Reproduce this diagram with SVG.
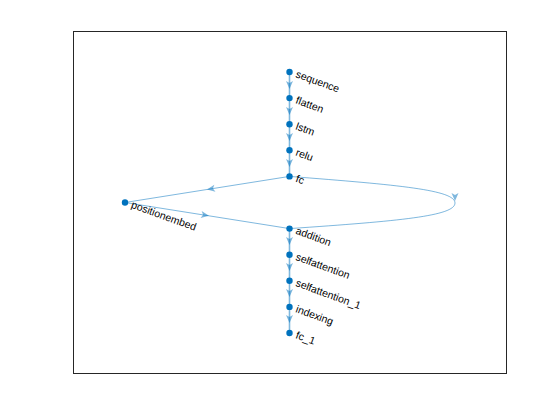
<svg xmlns="http://www.w3.org/2000/svg" width="560" height="420" viewBox="0 0 560 420">
<defs>
<style>
.edge{fill:none;stroke:#0072BD;stroke-opacity:0.5;stroke-width:1}
.v{stroke-width:1.6}
.arr{fill:#0072BD;fill-opacity:0.5;stroke:none}
.node{fill:#0072BD}
.lbl{font-family:"Liberation Sans",Arial,sans-serif;font-size:10.5px;fill:#000}
</style>
<path id="ah" d="M0,0 L-8,-3.5 L-6,0 L-8,3.5 Z"/>
</defs>
<rect x="73.5" y="31.5" width="433" height="342" fill="#fff" stroke="#262626" stroke-width="1"/>
<g id="edges">
<path class="edge v" d="M289.5,72 L289.5,176.4"/>
<path class="edge v" d="M289.5,228.6 L289.5,333"/>
<path class="edge" d="M289.5,176.4 L125,202.5 L289.5,228.6"/>
<path class="edge" d="M289.5,176.4 C400,185 455,190 455,203 C455,216 400,221 289.5,228.6"/>
<use href="#ah" class="arr" transform="translate(289.5,89) rotate(90)"/>
<use href="#ah" class="arr" transform="translate(289.5,115) rotate(90)"/>
<use href="#ah" class="arr" transform="translate(289.5,141) rotate(90)"/>
<use href="#ah" class="arr" transform="translate(289.5,167) rotate(90)"/>
<use href="#ah" class="arr" transform="translate(289.5,245) rotate(90)"/>
<use href="#ah" class="arr" transform="translate(289.5,271) rotate(90)"/>
<use href="#ah" class="arr" transform="translate(289.5,297) rotate(90)"/>
<use href="#ah" class="arr" transform="translate(289.5,323) rotate(90)"/>
<use href="#ah" class="arr" transform="translate(207,189.5) rotate(171)"/>
<use href="#ah" class="arr" transform="translate(209,215.8) rotate(9)"/>
<use href="#ah" class="arr" transform="translate(455,201) rotate(90)"/>
</g>
<g id="n_sequence"><circle class="node" cx="289.5" cy="72" r="3.2"/><text class="lbl" transform="translate(295,77) rotate(20)">sequence</text></g>
<g id="n_flatten"><circle class="node" cx="289.5" cy="98.1" r="3.2"/><text class="lbl" transform="translate(295,103.1) rotate(20)">flatten</text></g>
<g id="n_lstm"><circle class="node" cx="289.5" cy="124.2" r="3.2"/><text class="lbl" transform="translate(295,129.2) rotate(20)">lstm</text></g>
<g id="n_relu"><circle class="node" cx="289.5" cy="150.3" r="3.2"/><text class="lbl" transform="translate(295,155.3) rotate(20)">relu</text></g>
<g id="n_fc"><circle class="node" cx="289.5" cy="176.4" r="3.2"/><text class="lbl" transform="translate(295,181.4) rotate(20)">fc</text></g>
<g id="n_positionembed"><circle class="node" cx="125" cy="202.5" r="3.2"/><text class="lbl" transform="translate(130.5,207.5) rotate(20)">positionembed</text></g>
<g id="n_addition"><circle class="node" cx="289.5" cy="228.6" r="3.2"/><text class="lbl" transform="translate(295,233.6) rotate(20)">addition</text></g>
<g id="n_selfattention"><circle class="node" cx="289.5" cy="254.7" r="3.2"/><text class="lbl" transform="translate(295,259.7) rotate(20)">selfattention</text></g>
<g id="n_selfattention_1"><circle class="node" cx="289.5" cy="280.8" r="3.2"/><text class="lbl" transform="translate(295,285.8) rotate(20)">selfattention_1</text></g>
<g id="n_indexing"><circle class="node" cx="289.5" cy="306.9" r="3.2"/><text class="lbl" transform="translate(295,311.9) rotate(20)">indexing</text></g>
<g id="n_fc_1"><circle class="node" cx="289.5" cy="333" r="3.2"/><text class="lbl" transform="translate(295,338) rotate(20)">fc_1</text></g>
</svg>
